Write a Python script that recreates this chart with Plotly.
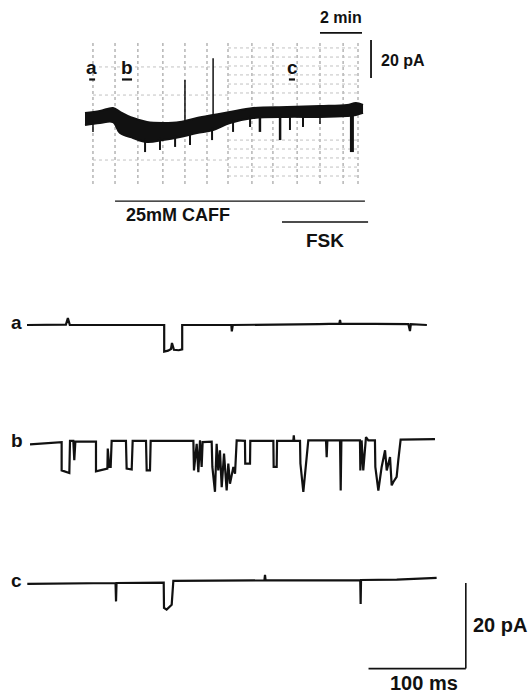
import numpy as np
import plotly.graph_objects as go

W, H = 528, 694

# ---------------- overview recording (time in min, current in pA) ----------------
ov_t = [0.0, 0.71, 1.33, 1.67, 2.29, 2.95, 3.71, 4.52, 5.33, 6.10, 6.90, 8.00, 9.62, 11.19, 12.48, 12.90, 13.24]
ov_upper = [3.2, 4.2, 5.8, 3.7, 0.5, -1.6, -2.1, -1.6, 0.5, 2.1, 3.7, 5.8, 6.3, 6.8, 7.4, 8.4, 7.4]
ov_lower = [-3.2, -2.1, -1.6, -7.4, -10.0, -12.1, -11.1, -9.5, -7.4, -5.8, -2.1, 0.5, 1.1, 1.1, 1.6, 2.1, 3.2]
spike_t = [0.38, 2.86, 3.57, 4.29, 5.0, 6.05, 7.05, 7.86, 8.33, 9.29, 9.76, 10.38, 11.19, 12.71]
spike_i = [-6.8, -17.4, -16.3, -14.7, -13.7, -11.1, -6.8, -4.2, -6.8, -11.1, -5.8, -4.2, -2.6, -17.4]
spike_w = [1.5, 2, 2, 2, 2, 2, 2, 2, 2.5, 2.5, 2, 2, 1.5, 4]
artifact_t = [4.76, 6.10]
artifact_i = [20.5, 32.0]

# chart-paper grid
grid_t = [0.38, 1.43, 2.52, 3.71, 4.76, 5.81, 6.81, 7.95, 8.95, 10.1, 11.19, 12.29, 13.0]
grid_top, grid_bottom = 40.0, -34.7
grid_rows_right = [37.4, 32.6, 27.9, 23.2, 18.4, 13.7, -11.1, -15.8, -20.5, -25.3, -30.0]
grid_rows_left = [27.4, 12.6, -21.6]

caff_t = [1.43, 13.33]
fsk_t = [9.38, 13.48]
marker_labels = ["a", "b", "c"]
marker_t = [0.33, 2.0, 9.86]
marker_span = [(0.2, 0.48), (1.76, 2.24), (9.71, 10.0)]

# ---------------- single-channel traces (time in ms, current in pA) ----------------
a_t = [0, 40, 42, 44, 141, 141, 145, 148, 149, 151, 156, 159.5, 159.5, 210, 210.5, 211.5, 300, 321, 321.7, 322.4, 392, 393.6, 394.5, 411]
a_i = [0, 0.1, 1.6, 0, 0, -6.2, -6.0, -5.6, -4.2, -5.8, -5.9, -5.7, 0, 0, -1.5, 0, 0.2, 0.3, 1.2, 0.3, 0.2, -1.4, 0.2, 0]

b_t = [3.1, 33.9, 35.6, 35.6, 40, 43.5, 44.2, 47.6, 48.6, 49.7, 69.9, 70.9, 70.9, 78, 82.6, 83.0, 84.6, 86.0, 87.0,
       101.7, 102.4, 107.6, 108.6, 122.3, 123.0, 126.4, 127.1, 171.0, 171.6, 174.4, 176.1, 177.8, 179.5, 180.5,
       189.8, 190.5, 193.2, 194.9, 196.6, 198.3, 200.1, 202.5, 205.2, 206.9, 208.6, 212.1, 213.8, 215.5,
       224.0, 224.3, 229.2, 229.5, 253.2, 253.5, 256.6, 257.0, 273.7, 274.2, 274.7, 280.6, 281.0, 284.0, 286.4, 289.1,
       307.3, 308.0, 308.7, 321.7, 322.4, 323.1, 342.2, 342.6, 343.9, 345.6, 348.4, 350.8, 357.6, 358.0, 361.1,
       364.5, 368.0, 369.7, 373.1, 374.8, 376.5, 379.9, 381.6, 383.4, 384.0, 419.3]
b_i = [-0.3, 0.2, 0.2, -6.4, -6.8, -7.0, 0.5, 0.5, -4.0, 0.3, 0.3, 0.3, -6.6, -6.3, -6.0, -1.3, -5.6, -5.6, 0.5,
       0.5, -6.0, -6.2, 0.5, 0.5, -6.4, -6.4, 0.5, 0.5, -6.4, -0.2, -6.8, 0.6, -5.6, 0.2,
       0.3, -5.6, -11.4, -0.2, -6.4, -1.7, -10.3, -2.5, -11.1, -4.8, -9.5, -5.6, -7.2, 0.6,
       0.5, -4.8, -4.8, 0.5, 0.5, -5.6, -5.6, 0.5, 0.5, 1.8, 0.5, 0.5, -4.8, -11.4, -6.4, 0.6,
       0.6, -3.3, 0.6, 0.6, -11.1, 0.6, 0.6, -6.4, 0.6, -6.4, 1.4, 0.6, 0.6, -5.6, -11.1,
       -5.6, -1.7, -6.4, -3.3, -9.9, -9.1, -7.9, -4.0, 0.2, 0.8, 0.9]

c_t = [0.3, 60, 91.0, 91.5, 92.0, 140.5, 140.8, 143.5, 146, 148.7, 150.4, 200, 244, 244.6, 245.2, 342.5, 342.9, 343.3, 380, 421]
c_i = [-0.2, 0, 0, -4.3, 0, 0.1, -5.8, -6.2, -5.6, -5.1, 0.5, 0.5, 0.6, 1.9, 0.6, 0.6, -4.9, 0.7, 0.8, 1.2]

trace_labels = ["a", "b", "c"]
scale_ms = [351, 451]
scale_pa = [0, -20]

# ---------------- layout helpers (pixel placement) ----------------
def px_dom_x(x0, x1):
    return [x0 / W, x1 / W]

def px_dom_y(y0, y1):
    return [1 - y1 / H, 1 - y0 / H]

# overview: x px = 85 + 21*t, y px = 119 - 1.9*I
OV_X0, OV_PXMIN = 85, 21.0
OV_Y0, OV_PXPA = 119, 1.9
# single channel: x px = 27 + 0.973*t, y px = base - 4.28*I
SC_X0, SC_PXMS = 27, 0.973
SC_PXPA = 4.28
bases = [325, 443, 583]
half = 111

fig = go.Figure()
BLACK = "#111111"

# grid
gx, gy = [], []
for t in grid_t:
    gx += [t, t, None]
    gy += [grid_top, grid_bottom, None]
fig.add_trace(go.Scatter(x=gx, y=gy, mode="lines", line=dict(color="#8f8f8f", width=1, dash="dot"),
                         xaxis="x", yaxis="y", hoverinfo="skip"))
hx, hy = [], []
for r in grid_rows_right:
    hx += [grid_t[6], grid_t[-1], None]
    hy += [r, r, None]
for r in grid_rows_left:
    hx += [grid_t[0], grid_t[6], None]
    hy += [r, r, None]
fig.add_trace(go.Scatter(x=hx, y=hy, mode="lines", line=dict(color="#c2c2c2", width=1, dash="dot"),
                         xaxis="x", yaxis="y", hoverinfo="skip"))

# overview band
fig.add_trace(go.Scatter(x=ov_t, y=ov_lower, mode="lines", line=dict(color=BLACK, width=2, shape="spline"),
                         xaxis="x", yaxis="y", hoverinfo="skip"))
fig.add_trace(go.Scatter(x=ov_t, y=ov_upper, mode="lines", line=dict(color=BLACK, width=2, shape="spline"),
                         fill="tonexty", fillcolor=BLACK, xaxis="x", yaxis="y", hoverinfo="skip"))
lower_at = np.interp(spike_t, ov_t, ov_lower)
for t, i, w, l0 in zip(spike_t, spike_i, spike_w, lower_at):
    fig.add_trace(go.Scatter(x=[t, t], y=[l0 + 1.5, i], mode="lines", line=dict(color=BLACK, width=w),
                             xaxis="x", yaxis="y", hoverinfo="skip"))
upper_at = np.interp(artifact_t, ov_t, ov_upper)
for t, i, u0 in zip(artifact_t, artifact_i, upper_at):
    fig.add_trace(go.Scatter(x=[t, t], y=[u0 - 1, i], mode="lines", line=dict(color=BLACK, width=1.5),
                             xaxis="x", yaxis="y", hoverinfo="skip"))

# bars and scale bars in overview
def seg(x, y, xa, ya, w=1.4):
    fig.add_trace(go.Scatter(x=x, y=y, mode="lines", line=dict(color=BLACK, width=w),
                             xaxis=xa, yaxis=ya, hoverinfo="skip"))

seg(caff_t, [-43.2, -43.2], "x", "y")
seg(fsk_t, [-54.2, -54.2], "x", "y")
seg([11.19, 13.19], [45.3, 45.3], "x", "y", 1.8)
seg([13.62, 13.62], [21.6, 41.6], "x", "y", 1.8)
for (s0, s1) in marker_span:
    seg([s0, s1], [20.8, 20.8], "x", "y", 2.2)

# single-channel traces
for k, (tt, ii) in enumerate([(a_t, a_i), (b_t, b_i), (c_t, c_i)]):
    fig.add_trace(go.Scatter(x=tt, y=ii, mode="lines", line=dict(color=BLACK, width=2.2),
                             xaxis="x2", yaxis=f"y{k+2}", hoverinfo="skip"))
seg(scale_ms, [scale_pa[1], scale_pa[1]], "x2", "y4", 1.6)
seg([scale_ms[1], scale_ms[1]], scale_pa, "x2", "y4", 1.6)

FONT = "Liberation Sans, Arial, Helvetica, sans-serif"
def txt(x, y, s, xr, yr, size=16, xanchor="center"):
    return dict(x=x, y=y, text=s, xref=xr, yref=yr, showarrow=False, xanchor=xanchor, yanchor="middle",
                font=dict(family=FONT, size=size, color=BLACK, weight="bold"))

ann = [
    txt(12.19, 53.5, "2 min", "x", "y", 16),
    txt(14.0, 31.0, "20 pA", "x", "y", 16, "left"),
    txt(4.43, -50.3, "25mM CAFF", "x", "y", 18),
    txt(11.43, -63.7, "FSK", "x", "y", 19),
]
for lab, t in zip(marker_labels, marker_t):
    ann.append(txt(t, 27.0, lab, "x", "y", 19))
for k, lab in enumerate(trace_labels):
    ann.append(txt(-10.5, 0.6, lab, "x2", f"y{k+2}", 19))
ann.append(txt(456, -9.8, "20 pA", "x2", "y4", 20, "left"))
ann.append(txt(408, -23.4, "100 ms", "x2", "y4", 20))

hidden = dict(visible=False, showgrid=False, zeroline=False, fixedrange=True)
layout = dict(
    width=W, height=H, margin=dict(l=0, r=0, t=0, b=0), paper_bgcolor="white", plot_bgcolor="rgba(0,0,0,0)",
    showlegend=False, annotations=ann,
    xaxis=dict(domain=px_dom_x(80, 440), range=[(80 - OV_X0) / OV_PXMIN, (440 - OV_X0) / OV_PXMIN], anchor="y", **hidden),
    yaxis=dict(domain=px_dom_y(0, 260), range=[(OV_Y0 - 260) / OV_PXPA, (OV_Y0 - 0) / OV_PXPA], anchor="x", **hidden),
    xaxis2=dict(domain=[0, 1], range=[(0 - SC_X0) / SC_PXMS, (W - SC_X0) / SC_PXMS], anchor="y2", **hidden),
)
for k, b in enumerate(bases):
    layout[f"yaxis{k+2}"] = dict(domain=px_dom_y(b - half, b + half), range=[-half / SC_PXPA, half / SC_PXPA],
                                 anchor="x2", **hidden)
fig.update_layout(**layout)
fig.write_html("out.html")
